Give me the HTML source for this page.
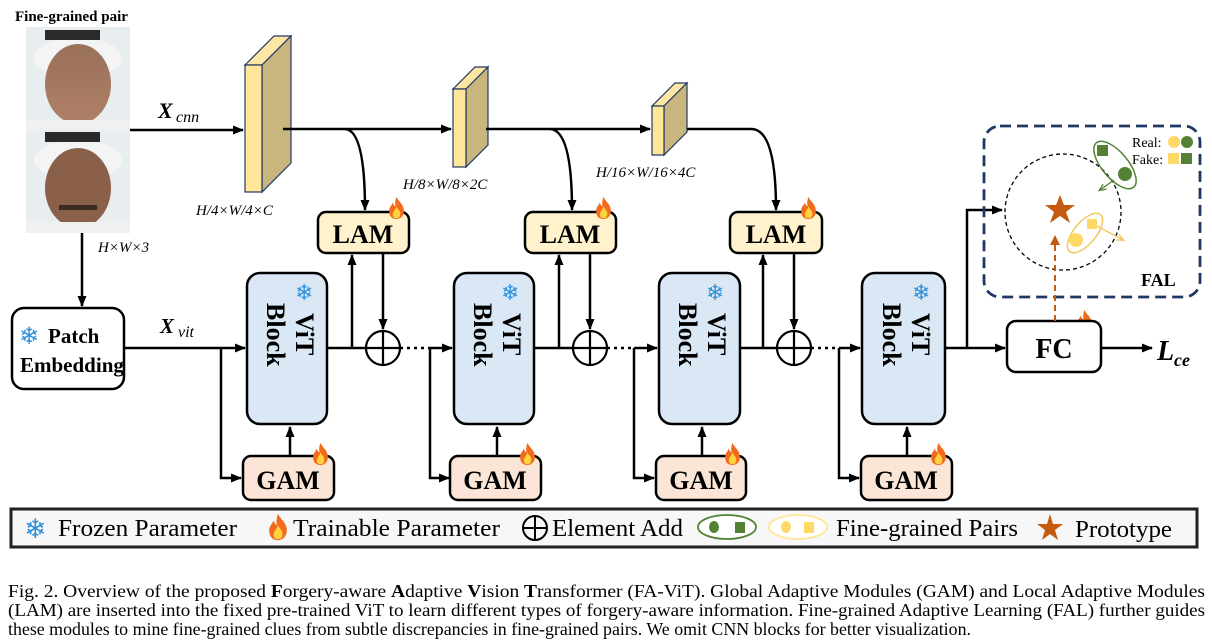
<!DOCTYPE html>
<html><head><meta charset="utf-8"><style>
html,body{margin:0;padding:0;background:#fff}
svg{display:block}
.s{font-family:"Liberation Serif",serif}
.b{font-family:"Liberation Serif",serif;font-weight:bold}
</style></head><body>
<svg width="1212" height="643" viewBox="0 0 1212 643" xmlns="http://www.w3.org/2000/svg">
<defs>
<marker id="a" markerWidth="12" markerHeight="12" refX="10" refY="6" orient="auto" markerUnits="userSpaceOnUse"><path d="M0,1.5 L11,6 L0,10.5 z" fill="#000"/></marker>
<marker id="ao" markerWidth="10" markerHeight="10" refX="8" refY="5" orient="auto" markerUnits="userSpaceOnUse"><path d="M0,0 L10,5 L0,10 z" fill="#c55a11"/></marker>
<marker id="ag" markerWidth="8" markerHeight="8" refX="6" refY="4" orient="auto" markerUnits="userSpaceOnUse"><path d="M0,1 L7,4 L0,7" fill="none" stroke="#548235" stroke-width="1.3"/></marker>
<marker id="ay" markerWidth="8" markerHeight="8" refX="6" refY="4" orient="auto" markerUnits="userSpaceOnUse"><path d="M0,1 L7,4 L0,7" fill="none" stroke="#f2c75c" stroke-width="1.3"/></marker>
<symbol id="fl" viewBox="0 0 20 26">
<path d="M10,1 C12,6 18,9 18,16 C18,22 14,25 10,25 C5,25 2,22 2,16 C2,12 5,10 6,7 C7,10 8,11 9,11 C8,7 9,4 10,1 z" fill="#f26a1b"/>
<path d="M10,11 C11,15 15,16 14,20 C14,23 12,24 10,24 C7,24 6,22 6,20 C6,17 9,15 10,11 z" fill="#ffd23f"/>
</symbol>
<linearGradient id="face1" x1="0" y1="0" x2="0" y2="1"><stop offset="0" stop-color="#9a7058"/><stop offset="1" stop-color="#b08068"/></linearGradient>
</defs>

<text x="15" y="21" class="b" font-size="15">Fine-grained pair</text>
<rect x="26" y="27" width="104" height="206" fill="#e8eef0"/>
<ellipse cx="78" cy="58" rx="44" ry="20" fill="#f4f4f4"/>
<rect x="45" y="30" width="55" height="10" fill="#2a2a2a"/>
<ellipse cx="78" cy="84" rx="33" ry="40" fill="url(#face1)"/>
<rect x="26" y="120" width="104" height="10" fill="#f0f0f0"/>
<rect x="26" y="130" width="104" height="103" fill="#e8eef0"/>
<ellipse cx="78" cy="160" rx="44" ry="20" fill="#f4f4f4"/>
<rect x="45" y="132" width="55" height="10" fill="#2a2a2a"/>
<ellipse cx="78" cy="188" rx="33" ry="40" fill="#8a604a"/>
<rect x="26" y="222" width="104" height="11" fill="#f0f0f0"/>
<rect x="59" y="205" width="38" height="5" fill="#3a2a20"/>

<text x="158" y="118" class="b" font-size="22" font-style="italic">X</text>
<text x="176" y="122" class="s" font-size="16" font-style="italic">cnn</text>
<line x1="130" y1="130" x2="243" y2="130" stroke="#000" stroke-width="2.5" marker-end="url(#a)"/>
<polygon points="245,65 274,36 291,36 262,65" fill="#fde6a3" stroke="#1f3864" stroke-width="1.2"/>
<polygon points="262,65 291,36 291,163 262,192" fill="#c9b57e" stroke="#1f3864" stroke-width="1.2"/>
<rect x="245" y="65" width="17" height="127" fill="#ffe699" stroke="#1f3864" stroke-width="1.2"/>
<text x="196" y="215" class="s" font-size="15" font-style="italic">H/4×W/4×C</text>
<path d="M283,129 L451,129" stroke="#000" stroke-width="2.5" fill="none" marker-end="url(#a)"/>
<path d="M345,129 Q365,130 365,210" stroke="#000" stroke-width="2.5" fill="none" marker-end="url(#a)"/>
<polygon points="453,89 475,67 488,67 466,89" fill="#fde6a3" stroke="#1f3864" stroke-width="1.2"/>
<polygon points="466,89 488,67 488,145 466,167" fill="#c9b57e" stroke="#1f3864" stroke-width="1.2"/>
<rect x="453" y="89" width="13" height="78" fill="#ffe699" stroke="#1f3864" stroke-width="1.2"/>
<text x="403" y="189" class="s" font-size="15" font-style="italic">H/8×W/8×2C</text>
<path d="M486,129 L650,129" stroke="#000" stroke-width="2.5" fill="none" marker-end="url(#a)"/>
<path d="M550,129 Q572,130 572,210" stroke="#000" stroke-width="2.5" fill="none" marker-end="url(#a)"/>
<polygon points="652,106 675,83 687,83 664,106" fill="#fde6a3" stroke="#1f3864" stroke-width="1.2"/>
<polygon points="664,106 687,83 687,132 664,155" fill="#c9b57e" stroke="#1f3864" stroke-width="1.2"/>
<rect x="652" y="106" width="12" height="49" fill="#ffe699" stroke="#1f3864" stroke-width="1.2"/>
<text x="596" y="177" class="s" font-size="15" font-style="italic">H/16×W/16×4C</text>
<path d="M687,129 L752,129 Q776,130 776,210" stroke="#000" stroke-width="2.5" fill="none" marker-end="url(#a)"/>

<text x="98" y="252" class="s" font-size="15" font-style="italic">H×W×3</text>
<line x1="82" y1="233" x2="82" y2="306" stroke="#000" stroke-width="2.5" marker-end="url(#a)"/>
<rect x="12" y="308" width="112" height="81" rx="12" fill="#fff" stroke="#000" stroke-width="2.5"/>
<text x="19" y="344" font-size="24" fill="#2e8fd8" font-family="DejaVu Sans,sans-serif">❄</text>
<text x="48" y="343" class="b" font-size="21">Patch</text>
<text x="20" y="372" class="b" font-size="21">Embedding</text>
<text x="160" y="333" class="b" font-size="21" font-style="italic">X</text>
<text x="178" y="337" class="s" font-size="16" font-style="italic">vit</text>

<g stroke="#000" stroke-width="2.5" fill="none">
<line x1="124" y1="348" x2="245" y2="348" marker-end="url(#a)"/>
<path d="M221,348 L221,478 L241,478" marker-end="url(#a)"/>
<line x1="327" y1="348" x2="366" y2="348"/>
<line x1="352" y1="348" x2="352" y2="255" marker-end="url(#a)"/>
<line x1="383" y1="253" x2="383" y2="329" marker-end="url(#a)"/>
<line x1="400" y1="348" x2="430" y2="348" stroke-dasharray="3,4"/>
<line x1="430" y1="348" x2="452" y2="348" marker-end="url(#a)"/>
<path d="M430,348 L430,478 L449,478" marker-end="url(#a)"/>
<line x1="534" y1="348" x2="573" y2="348"/>
<line x1="559" y1="348" x2="559" y2="255" marker-end="url(#a)"/>
<line x1="590" y1="253" x2="590" y2="329" marker-end="url(#a)"/>
<line x1="607" y1="348" x2="634" y2="348" stroke-dasharray="3,4"/>
<line x1="634" y1="348" x2="657" y2="348" marker-end="url(#a)"/>
<path d="M634,348 L634,478 L654,478" marker-end="url(#a)"/>
<line x1="740" y1="348" x2="777" y2="348"/>
<line x1="763" y1="348" x2="763" y2="255" marker-end="url(#a)"/>
<line x1="794" y1="253" x2="794" y2="329" marker-end="url(#a)"/>
<line x1="811" y1="348" x2="839" y2="348" stroke-dasharray="3,4"/>
<line x1="839" y1="348" x2="860" y2="348" marker-end="url(#a)"/>
<path d="M839,348 L839,478 L859,478" marker-end="url(#a)"/>
<line x1="945" y1="348" x2="1005" y2="348" marker-end="url(#a)"/>
<path d="M967,348 L967,210 L1002,210" marker-end="url(#a)"/>
<line x1="1101" y1="348" x2="1152" y2="348" marker-end="url(#a)"/>
<line x1="290" y1="455" x2="290" y2="427" marker-end="url(#a)"/>
<line x1="497" y1="455" x2="497" y2="427" marker-end="url(#a)"/>
<line x1="702" y1="455" x2="702" y2="427" marker-end="url(#a)"/>
<line x1="907" y1="455" x2="907" y2="427" marker-end="url(#a)"/>
</g>

<g stroke="#000" stroke-width="2.2" fill="#fff">
<circle cx="383" cy="348" r="17"/><path d="M366,348 H400 M383,331 V365"/>
<circle cx="590" cy="348" r="17"/><path d="M573,348 H607 M590,331 V365"/>
<circle cx="794" cy="348" r="17"/><path d="M777,348 H811 M794,331 V365"/>
</g>

<g>
<rect x="247" y="273" width="80" height="151" rx="13" fill="#dae8f5" stroke="#000" stroke-width="2.5"/>
<rect x="454" y="273" width="80" height="151" rx="13" fill="#dae8f5" stroke="#000" stroke-width="2.5"/>
<rect x="659" y="273" width="81" height="151" rx="13" fill="#dae8f5" stroke="#000" stroke-width="2.5"/>
<rect x="862" y="273" width="83" height="151" rx="13" fill="#dae8f5" stroke="#000" stroke-width="2.5"/>
</g>
<g font-size="22" fill="#2e8fd8" font-family="DejaVu Sans,sans-serif">
<text x="295" y="300">❄</text><text x="501" y="300">❄</text><text x="706" y="300">❄</text><text x="912" y="300">❄</text>
</g>
<g class="b" font-size="26">
<g transform="translate(287,305) rotate(90)"><text x="8" y="-9">ViT</text><text x="-2" y="20">Block</text></g>
<g transform="translate(494,305) rotate(90)"><text x="8" y="-9">ViT</text><text x="-2" y="20">Block</text></g>
<g transform="translate(699,305) rotate(90)"><text x="8" y="-9">ViT</text><text x="-2" y="20">Block</text></g>
<g transform="translate(903,305) rotate(90)"><text x="8" y="-9">ViT</text><text x="-2" y="20">Block</text></g>
</g>

<g stroke="#000" stroke-width="2.5" fill="#fff2cc">
<rect x="318" y="212" width="91" height="41" rx="8"/>
<rect x="525" y="212" width="91" height="41" rx="8"/>
<rect x="730" y="212" width="92" height="41" rx="8"/>
</g>
<g class="b" font-size="26" text-anchor="middle">
<text x="363" y="243">LAM</text><text x="570" y="243">LAM</text><text x="776" y="243">LAM</text>
</g>
<g stroke="#000" stroke-width="2.5" fill="#fbe5d6">
<rect x="243" y="456" width="91" height="44" rx="8"/>
<rect x="450" y="456" width="91" height="44" rx="8"/>
<rect x="656" y="456" width="90" height="44" rx="8"/>
<rect x="861" y="456" width="91" height="44" rx="8"/>
</g>
<g class="b" font-size="26" text-anchor="middle">
<text x="288" y="489">GAM</text><text x="495" y="489">GAM</text><text x="701" y="489">GAM</text><text x="906" y="489">GAM</text>
</g>
<use href="#fl" x="387" y="196" width="19" height="24"/>
<use href="#fl" x="594" y="196" width="19" height="24"/>
<use href="#fl" x="799" y="196" width="19" height="24"/>
<use href="#fl" x="311" y="442" width="19" height="24"/>
<use href="#fl" x="518" y="442" width="19" height="24"/>
<use href="#fl" x="723" y="442" width="19" height="24"/>
<use href="#fl" x="929" y="442" width="19" height="24"/>
<use href="#fl" x="1075" y="309" width="19" height="24"/>

<rect x="1007" y="321" width="94" height="51" rx="9" fill="#fff" stroke="#000" stroke-width="2.5"/>
<text x="1054" y="358" class="b" font-size="28" text-anchor="middle">FC</text>
<text x="1157" y="360" class="b" font-size="28" font-style="italic">L</text>
<text x="1174" y="366" class="b" font-size="18" font-style="italic">ce</text>

<rect x="984" y="126" width="216" height="171" rx="16" fill="none" stroke="#1f3864" stroke-width="2.8" stroke-dasharray="11,6"/>
<circle cx="1063" cy="212" r="58" fill="none" stroke="#000" stroke-width="1.3" stroke-dasharray="4,3"/>
<polygon points="1060,195 1064,205 1075,205 1066,212 1070,223 1060,216 1050,223 1054,212 1045,205 1056,205" fill="#c55a11"/>
<line x1="1055" y1="321" x2="1055" y2="237" stroke="#c55a11" stroke-width="2" stroke-dasharray="6,4" marker-end="url(#ao)"/>
<ellipse cx="1115" cy="165" rx="13" ry="29" transform="rotate(-40 1115 165)" fill="none" stroke="#548235" stroke-width="1.5"/>
<rect x="1097" y="145" width="11" height="11" fill="#548235"/>
<circle cx="1125" cy="174" r="7" fill="#548235"/>
<line x1="1114" y1="180" x2="1100" y2="190" stroke="#548235" stroke-width="1.3" marker-end="url(#ag)"/>
<ellipse cx="1085" cy="233" rx="11" ry="24" transform="rotate(40 1085 233)" fill="none" stroke="#f2c75c" stroke-width="1.5"/>
<rect x="1087" y="219" width="10" height="10" fill="#ffd966"/>
<circle cx="1076" cy="240" r="7" fill="#ffd966"/>
<line x1="1097" y1="226" x2="1123" y2="240" stroke="#f2c75c" stroke-width="1.3" marker-end="url(#ay)"/>
<text x="1132" y="147" class="s" font-size="14">Real:</text>
<circle cx="1174" cy="142" r="6" fill="#ffd966"/><circle cx="1187" cy="142" r="6" fill="#548235"/>
<text x="1132" y="164" class="s" font-size="14">Fake:</text>
<rect x="1168" y="153" width="11" height="11" fill="#ffd966"/><rect x="1181" y="153" width="11" height="11" fill="#548235"/>
<text x="1141" y="286" class="b" font-size="18">FAL</text>

<rect x="11" y="509" width="1186" height="38" fill="#f7f7f7" stroke="#222" stroke-width="3"/>
<text x="24" y="538" font-size="27" fill="#2e8fd8" font-family="DejaVu Sans,sans-serif">❄</text>
<text x="58" y="536" class="s" font-size="24" textLength="179" lengthAdjust="spacingAndGlyphs">Frozen Parameter</text>
<use href="#fl" x="267" y="512" width="22" height="30"/>
<text x="293" y="536" class="s" font-size="24" textLength="207" lengthAdjust="spacingAndGlyphs">Trainable Parameter</text>
<circle cx="535" cy="528" r="12" fill="none" stroke="#000" stroke-width="2"/><path d="M523,528 H547 M535,516 V540" stroke="#000" stroke-width="2"/>
<text x="552" y="536" class="s" font-size="24" textLength="131" lengthAdjust="spacingAndGlyphs">Element Add</text>
<ellipse cx="727" cy="527" rx="29" ry="12" fill="#fff" stroke="#548235" stroke-width="1.8"/>
<ellipse cx="714" cy="527" rx="5" ry="6" fill="#548235"/><rect x="735" y="522" width="10" height="11" fill="#548235"/>
<ellipse cx="798" cy="527" rx="29" ry="12" fill="#fff" stroke="#ffe699" stroke-width="1.8"/>
<ellipse cx="786" cy="527" rx="5" ry="6" fill="#ffd966"/><rect x="804" y="522" width="10" height="11" fill="#ffd966"/>
<text x="836" y="536" class="s" font-size="24" textLength="182" lengthAdjust="spacingAndGlyphs">Fine-grained Pairs</text>
<polygon points="1050,514 1053,524 1063,524 1055,530 1058,540 1050,534 1042,540 1045,530 1037,524 1047,524" fill="#c55a11"/>
<text x="1075" y="537" class="s" font-size="24" textLength="97" lengthAdjust="spacingAndGlyphs">Prototype</text>

<g class="s" font-size="18">
<text x="8" y="597" textLength="1197" lengthAdjust="spacingAndGlyphs">Fig. 2.  Overview of the proposed <tspan font-weight="bold">F</tspan>orgery-aware <tspan font-weight="bold">A</tspan>daptive <tspan font-weight="bold">V</tspan>ision <tspan font-weight="bold">T</tspan>ransformer (FA-ViT). Global Adaptive Modules (GAM) and Local Adaptive Modules</text>
<text x="8" y="616" textLength="1197" lengthAdjust="spacingAndGlyphs">(LAM) are inserted into the fixed pre-trained ViT to learn different types of forgery-aware information. Fine-grained Adaptive Learning (FAL) further guides</text>
<text x="8" y="635" textLength="963" lengthAdjust="spacingAndGlyphs">these modules to mine fine-grained clues from subtle discrepancies in fine-grained pairs. We omit CNN blocks for better visualization.</text>
</g>
</svg>
</body></html>
